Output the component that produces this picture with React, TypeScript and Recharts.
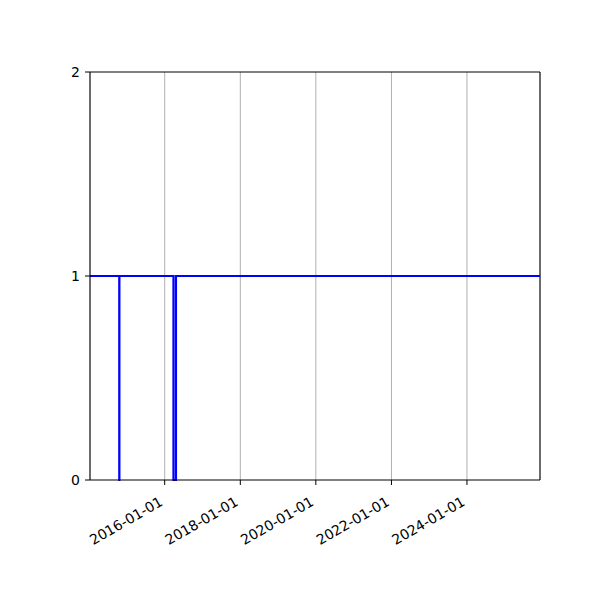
import React from "react";
import {
  LineChart,
  Line,
  XAxis,
  YAxis,
  CartesianGrid,
  ReferenceLine,
} from "recharts";

// step series
const dates = [
  "2014-01-09",
  "2014-10-19",
  "2014-10-20",
  "2016-03-26",
  "2016-04-19",
  "2025-12-07",
];
const values = [1, 0, 1, 0, 1, 1];

const xTickDates = [
  "2016-01-01",
  "2018-01-01",
  "2020-01-01",
  "2022-01-01",
  "2024-01-01",
];
const yTicks = [0, 1, 2];

const toTime = (d: string) => new Date(d).getTime();

const data = dates.map((d, i) => ({ t: toTime(d), v: values[i] }));
const xMin = toTime(dates[0]);
const xMax = toTime(dates[dates.length - 1]);
const xTicks = xTickDates.map(toTime);

const fmt = (t: number) => new Date(t).toISOString().slice(0, 10);

const font = "'DejaVu Sans', sans-serif";

const DateTick = (props: any) => {
  const { x, y, payload } = props;
  const px = x - 6;
  const py = y + 9;
  return (
    <text
      x={px}
      y={py}
      dy="0.71em"
      textAnchor="end"
      fontSize={14}
      fontFamily={font}
      fill="#000"
      transform={`rotate(-30, ${px}, ${py})`}
    >
      {fmt(payload.value)}
    </text>
  );
};

const App = () => {
  return (
    <div style={{ position: "absolute", left: 0, top: 0, background: "#fff" }}>
      <LineChart
        width={600}
        height={600}
        data={data}
        margin={{ top: 72, right: 60, left: 0, bottom: 0 }}
      >
        <CartesianGrid
          horizontal={false}
          stroke="#b0b0b0"
          strokeWidth={1}
        />
        <XAxis
          dataKey="t"
          type="number"
          domain={[xMin, xMax]}
          ticks={xTicks}
          allowDataOverflow
          height={120}
          stroke="#000"
          tickLine={{ stroke: "#000" }}
          tickSize={5}
          interval={0}
          tick={<DateTick />}
        />
        <YAxis
          type="number"
          domain={[0, 2]}
          ticks={yTicks}
          width={90}
          stroke="#000"
          tickLine={{ stroke: "#000" }}
          tickSize={5}
          tickMargin={5}
          tick={{ fill: "#000", fontSize: 14, fontFamily: font }}
        />
        <ReferenceLine y={2} stroke="#000" strokeWidth={1} />
        <ReferenceLine x={xMax} stroke="#000" strokeWidth={1} />
        <Line
          type="stepAfter"
          dataKey="v"
          stroke="#0000ff"
          strokeWidth={2.2}
          dot={false}
          isAnimationActive={false}
        />
      </LineChart>
    </div>
  );
};

export default App;
